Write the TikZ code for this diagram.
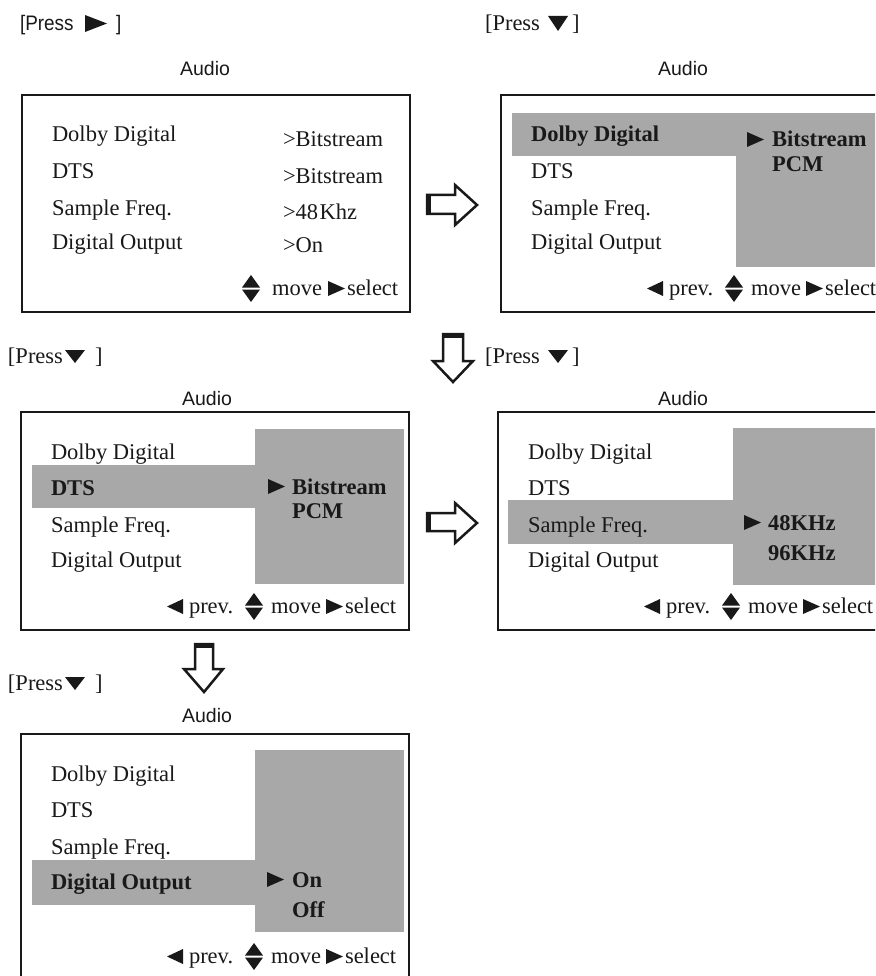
\documentclass[tikz,border=0pt]{standalone}
\usepackage{fontspec}
\setmainfont{Liberation Serif}
\newfontfamily\myarial{Liberation Sans}
\newfontfamily\myarialn[FakeStretch=0.9]{Liberation Sans}
\definecolor{panelgray}{RGB}{168,168,168}
\definecolor{ink}{RGB}{25,25,25}
\tikzset{
  lbl/.style={anchor=base west, inner sep=0pt, outer sep=0pt, text=ink, font=\fontsize{22.5}{27}\selectfont},
  blbl/.style={lbl, font=\fontsize{22.5}{27}\selectfont\bfseries},
  ttl/.style={anchor=base, inner sep=0pt, outer sep=0pt, text=ink, font=\myarial\fontsize{19.5}{22}\selectfont},
  sanslbl/.style={anchor=base west, inner sep=0pt, outer sep=0pt, text=ink, font=\myarialn\fontsize{21}{24}\selectfont},
  frame/.style={draw=ink, line width=2pt},
  panelfill/.style={fill=panelgray},
  blockarrow/.style={draw=ink, line width=2.5pt, fill=white, line join=miter},
  tailbar/.style={draw=ink, line width=5pt},
}
% right-pointing triangle: left x, baseline
\newcommand\myrtri[2]{\fill[ink] (#1,#2-15) -- (#1+17,#2-7.5) -- (#1,#2) -- cycle;}
% left-pointing triangle: left x, baseline
\newcommand\myltri[2]{\fill[ink] (#1+16,#2-15) -- (#1,#2-7.5) -- (#1+16,#2) -- cycle;}
% down triangle: left x, top y, width, height
\newcommand\mydtri[4]{\fill[ink] (#1,#2) -- (#1+#3,#2) -- (#1+#3/2,#2+#4) -- cycle;}
% up/down split diamond: centre x, baseline
\newcommand\myupdn[2]{%
  \fill[ink] (#1-9,#2-7.5) -- (#1,#2-20) -- (#1+9,#2-7.5) -- cycle;
  \fill[ink] (#1-9,#2-5.5) -- (#1,#2+7) -- (#1+9,#2-5.5) -- cycle;}
% menu rows: x0, top, prefix, styles of the four rows
\newcommand\myrows[7]{%
  \node[#4] (#3-r1) at (#1+30,#2+47) {Dolby Digital};
  \node[#5] (#3-r2) at (#1+30,#2+83.5) {DTS};
  \node[#6] (#3-r3) at (#1+30,#2+120) {Sample Freq.};
  \node[#7] (#3-r4) at (#1+30,#2+155) {Digital Output};}
% footer with prev: x0, baseline, prefix
\newcommand\myfootp[3]{%
  \myltri{#1+146}{#2+1}
  \node[lbl] (#3-prev) at (#1+168,#2) {prev.};
  \myupdn{#1+233}{#2}
  \node[lbl] (#3-move) at (#1+250,#2) {move};
  \myrtri{#1+305}{#2+1}
  \node[lbl] (#3-sel) at (#1+324,#2) {select};}
\begin{document}
\begin{tikzpicture}[x=1pt,y=-1pt]
\clip (0,0) rectangle (875,976);
\fill[white] (0,0) rectangle (875,976);

% ---------- press labels ----------
\node[sanslbl] (p1) at (20,31) {[Press};
\fill[ink] (85,15) -- (107,23.5) -- (85,32) -- cycle;
\node[sanslbl] (p1b) at (116,31) {]};

\node[lbl] (p2) at (485,31) {[Press};
\mydtri{548}{16}{20}{15}
\node[lbl] (p2b) at (572,31) {]};

\node[lbl] (p3) at (8,363) {[Press};
\mydtri{65}{350}{20}{13}
\node[lbl] (p3b) at (95,363) {]};

\node[lbl] (p4) at (485,363) {[Press};
\mydtri{548}{350}{20}{13}
\node[lbl] (p4b) at (572,363) {]};

\node[lbl] (p5) at (8,690) {[Press};
\mydtri{65}{677}{20}{13}
\node[lbl] (p5b) at (95,690) {]};

% ---------- block arrows ----------
\draw[blockarrow] (427,195) -- (455,195) -- (455,185) -- (477,205) -- (455,225) -- (455,214) -- (427,214) -- cycle;
\draw[tailbar] (428,195) -- (428,214);
\draw[blockarrow] (427,513) -- (455,513) -- (455,503) -- (477,523) -- (455,543) -- (455,531) -- (427,531) -- cycle;
\draw[tailbar] (428,513) -- (428,531);
\draw[blockarrow] (443,334) -- (463,334) -- (463,361) -- (473,361) -- (453,382) -- (433,361) -- (443,361) -- cycle;
\draw[tailbar] (443,335) -- (463,335);
\draw[blockarrow] (195,644) -- (213,644) -- (213,669) -- (223,669) -- (204,692) -- (184,669) -- (195,669) -- cycle;
\draw[tailbar] (195,645) -- (213,645);

% ---------- screen 1 ----------
\node[ttl] (t1) at (205,76) {Audio};
\draw[frame] (22,95) rectangle (410,312);
\myrows{22}{95}{s1}{lbl}{lbl}{lbl}{lbl}
\node[lbl] (s1-v1) at (283,147) {>Bitstream};
\node[lbl] (s1-v2) at (283,184) {>Bitstream};
\node[lbl] (s1-v3) at (283,220) {>48\hspace{1.5pt}Khz};
\node[lbl] (s1-v4) at (283,252) {>On};
\myupdn{251}{295}
\node[lbl] (s1-move) at (272,295) {move};
\myrtri{328}{296}
\node[lbl] (s1-sel) at (347,295) {select};

% ---------- screen 2 ----------
\node[ttl] (t2) at (683,76) {Audio};
\fill[panelgray] (512,113) rectangle (737,156);
\fill[panelgray] (736,113) rectangle (880,267);
\draw[frame] (501,95) rectangle (890,312);
\myrows{501}{95}{s2}{blbl}{lbl}{lbl}{lbl}
\myrtri{747}{147}
\node[blbl] (s2-o1) at (772,147) {Bitstream};
\node[blbl] (s2-o2) at (772,172) {PCM};
\myfootp{501}{295}{s2}

% ---------- screen 3 ----------
\node[ttl] (t3) at (207,405) {Audio};
\fill[panelgray] (32,465) rectangle (256,508);
\fill[panelgray] (255,429) rectangle (404,584);
\draw[frame] (21,412) rectangle (409,630);
\myrows{21}{412}{s3}{lbl}{blbl}{lbl}{lbl}
\myrtri{268}{494}
\node[blbl] (s3-o1) at (292,494) {Bitstream};
\node[blbl] (s3-o2) at (292,518) {PCM};
\myfootp{21}{613}{s3}

% ---------- screen 4 ----------
\node[ttl] (t4) at (683,405) {Audio};
\fill[panelgray] (508,500) rectangle (734,544);
\fill[panelgray] (733,428) rectangle (880,585);
\draw[frame] (498,412) rectangle (890,630);
\myrows{498}{412}{s4}{lbl}{lbl}{lbl}{lbl}
\myrtri{744}{530}
\node[blbl] (s4-o1) at (768,530) {48KHz};
\node[blbl] (s4-o2) at (768,560) {96KHz};
\myfootp{498}{613}{s4}

% ---------- screen 5 ----------
\node[ttl] (t5) at (207,722) {Audio};
\fill[panelgray] (32,860) rectangle (256,905);
\fill[panelgray] (255,750) rectangle (404,932);
\draw[frame] (21,734) rectangle (409,995);
\myrows{21}{734}{s5}{lbl}{lbl}{lbl}{blbl}
\myrtri{267}{887}
\node[blbl] (s5-o1) at (292,887) {On};
\node[blbl] (s5-o2) at (292,917) {Off};
\myfootp{21}{963}{s5}
\end{tikzpicture}
\end{document}
